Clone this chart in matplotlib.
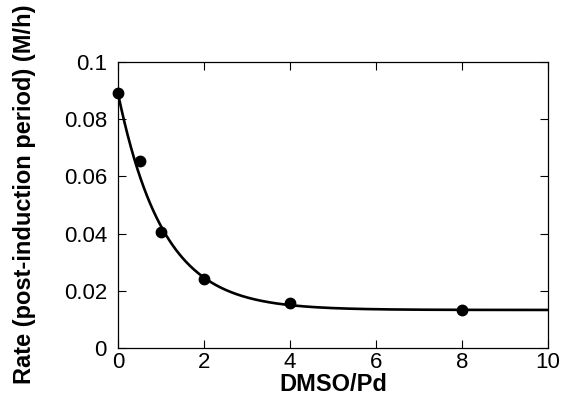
import numpy as np
import matplotlib
matplotlib.use("Agg")
import matplotlib.pyplot as plt

plt.rcParams['font.family'] = ['Liberation Sans', 'DejaVu Sans']

# measured rates
dmso_pd = [0, 0.5, 1, 2, 4, 8]
rate = [0.089, 0.0654, 0.0406, 0.0241, 0.0157, 0.0133]

# exponential decay fit: rate = plateau + amplitude * exp(-k * x)
plateau = 0.0133
amplitude = 0.0757
k_decay = 0.95

x_ticks = [0, 2, 4, 6, 8, 10]
y_ticks = [0, 0.02, 0.04, 0.06, 0.08, 0.1]
y_tick_labels = ['0', '0.02', '0.04', '0.06', '0.08', '0.1']

fig = plt.figure(figsize=(5.63, 3.96), dpi=100)
ax = fig.add_axes([118 / 563, 1 - 348 / 396, 430 / 563, 286 / 396])

xs = np.linspace(0, 10, 400)
ax.plot(xs, plateau + amplitude * np.exp(-k_decay * xs), color='black', lw=1.9, zorder=2)
ax.plot(dmso_pd, rate, 'o', color='black', ms=7.5, zorder=3, clip_on=False)

ax.set_xlim(0, 10)
ax.set_ylim(0, 0.1)
ax.set_xticks(x_ticks)
ax.set_xticklabels([str(t) for t in x_ticks])
ax.set_yticks(y_ticks)
ax.set_yticklabels(y_tick_labels)
ax.tick_params(direction='in', length=6, width=0.8, labelsize=16,
               top=True, right=True, colors='black')
ax.tick_params(axis='y', pad=8)
ax.tick_params(axis='x', pad=3)
for s in ax.spines.values():
    s.set_linewidth(0.9)

ax.set_xlabel('DMSO/Pd', fontsize=17, fontweight='bold')
ax.xaxis.set_label_coords(0.5, -0.088)
ax.set_ylabel('Rate (post-induction period) (M/h)', fontsize=17,
              fontweight='bold')
ax.yaxis.set_label_coords(-0.19, 0.538)

fig.savefig('out.png', dpi=100)
